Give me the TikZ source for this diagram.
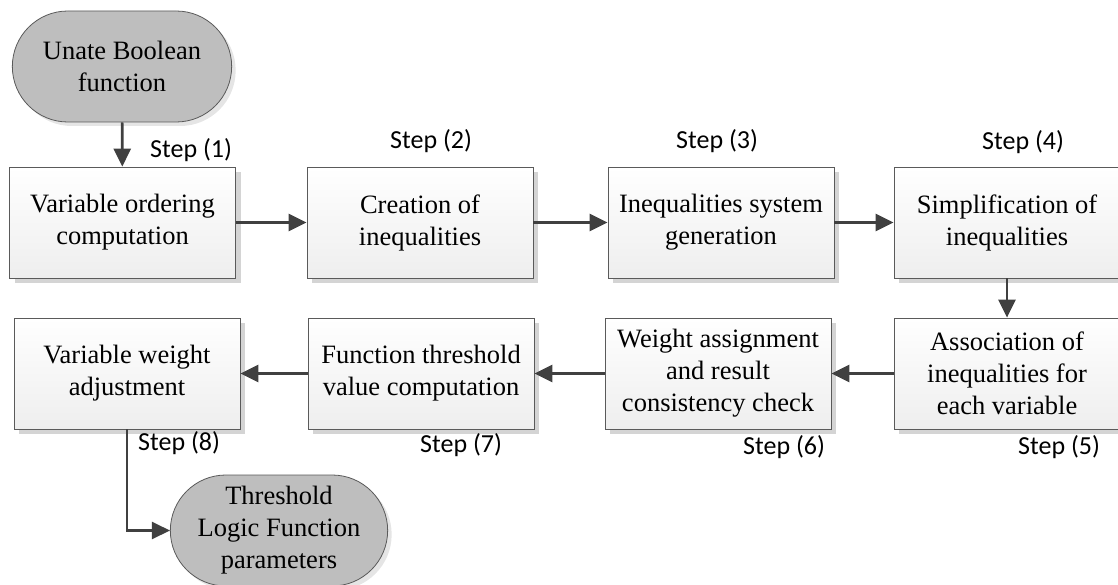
\documentclass[tikz,border=0pt]{standalone}
\usepackage{fontspec}
\setmainfont{Liberation Serif}
\newfontfamily\stepfont{Carlito}
\usetikzlibrary{arrows.meta, shapes.misc, shadows}
\definecolor{mygray1}{RGB}{64, 64, 64}
\definecolor{mygray2}{RGB}{238, 238, 238}
\definecolor{mygray3}{RGB}{190, 190, 190}
\definecolor{mygray4}{RGB}{212, 212, 212}
\definecolor{mygray5}{RGB}{90, 90, 90}
\tikzset{>={Triangle[length=18pt, width=17pt]},
  process/.style={draw=mygray5, line width=0.8pt, top color=white, bottom color=mygray2,
    minimum width=226pt, minimum height=111pt, align=center, font=\fontsize{26.5}{32}\selectfont,
    drop shadow={shadow xshift=5pt, shadow yshift=-5pt, fill=mygray4, opacity=1}},
  terminal/.style={rounded rectangle, draw=mygray5, line width=0.8pt, fill=mygray3,
    minimum width=226pt, minimum height=111pt, align=center, font=\fontsize{26.5}{32}\selectfont,
    drop shadow={shadow xshift=4pt, shadow yshift=-4pt, fill=mygray4!60, opacity=1}},
  flow/.style={->, line width=2.6pt, mygray1},
  steplabel/.style={anchor=base west, inner sep=0pt, font=\stepfont\fontsize{26}{30}\selectfont}}

\begin{document}
\begin{tikzpicture}[x=1pt, y=-1pt]
\useasboundingbox (0,0) rectangle (1118,585);

\node[terminal] (ubf) at (122, 66.5) {Unate Boolean\\function};

% first row
\node[process] (order) at (122.5, 222.5) {Variable ordering\\computation};
\node[process] (create) at (420, 222.5) {Creation of\\inequalities};
\node[process] (system) at (721, 222.5) {Inequalities system\\generation};
\node[process] (simplify) at (1007, 222.5) {Simplification of\\inequalities};

% second row
\node[process] (assoc) at (1007, 373.5) {Association of\\inequalities for\\each variable};
\node[process] (weight) at (718, 373.5) {Weight assignment\\and result\\consistency check};
\node[process] (thresh) at (421, 373.5) {Function threshold\\value computation};
\node[process] (adjust) at (127, 373.5) {Variable weight\\adjustment};

\node[terminal, minimum width=224pt] (tlf) at (279, 530.5) {Threshold\\Logic Function\\parameters};

\draw[flow] (ubf) -- (order);
\draw[flow] (order) -- (create);
\draw[flow] (create) -- (system);
\draw[flow] (system) -- (simplify);
\draw[flow] (simplify) -- (assoc);
\draw[flow] (assoc) -- (weight);
\draw[flow] (weight) -- (thresh);
\draw[flow] (thresh) -- (adjust);
\draw[flow] (adjust.south) |- (tlf.west);

\node[steplabel] (s1) at (150, 158) {Step (1)};
\node[steplabel] (s2) at (390, 149) {Step (2)};
\node[steplabel] (s3) at (676, 149) {Step (3)};
\node[steplabel] (s4) at (982, 150) {Step (4)};
\node[steplabel] (s5) at (1018, 454) {Step (5)};
\node[steplabel] (s6) at (743, 454) {Step (6)};
\node[steplabel] (s7) at (420, 452) {Step (7)};
\node[steplabel] (s8) at (138, 450) {Step (8)};

\end{tikzpicture}
\end{document}
